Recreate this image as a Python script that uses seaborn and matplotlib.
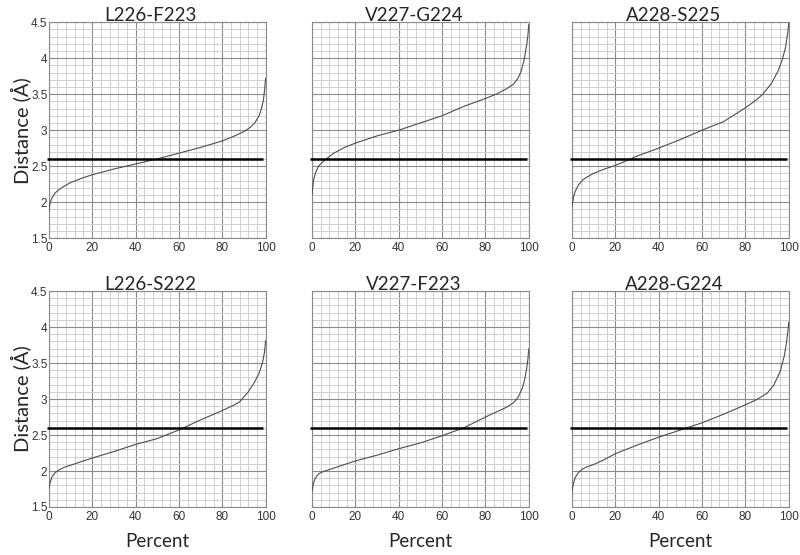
import numpy as np
import pandas as pd
import matplotlib
matplotlib.use('Agg')
import matplotlib.pyplot as plt
import seaborn as sns
from matplotlib.ticker import MultipleLocator

sns.set_style('white')
plt.rcParams['font.family'] = ['Liberation Sans', 'DejaVu Sans']

# panel titles
titles = ['L226-F223', 'V227-G224', 'A228-S225',
          'L226-S222', 'V227-F223', 'A228-G224']

# percent / distance points
pct_1 = [0, 0.3, 0.7, 1.5, 3, 5, 7, 10, 15, 20, 30, 40, 50, 60, 70, 80, 85, 90, 93, 95, 97, 98, 99, 99.5, 100]
dist_1 = [1.87, 1.94, 2.0, 2.06, 2.13, 2.18, 2.22, 2.27, 2.33, 2.38, 2.46, 2.53, 2.6, 2.68, 2.76, 2.85, 2.91, 2.98, 3.04, 3.1, 3.2, 3.29, 3.42, 3.55, 3.72]

pct_2 = [0, 0.3, 0.7, 1.5, 3, 5, 7, 10, 15, 20, 30, 40, 50, 60, 70, 80, 85, 90, 93, 95, 96.5, 98, 99, 99.6, 100]
dist_2 = [2.1, 2.2, 2.3, 2.4, 2.5, 2.56, 2.61, 2.68, 2.76, 2.82, 2.92, 3.0, 3.1, 3.2, 3.33, 3.44, 3.5, 3.58, 3.64, 3.72, 3.82, 4.0, 4.18, 4.32, 4.47]

pct_3 = [0, 0.3, 0.7, 1.5, 3, 5, 7, 10, 15, 20, 27, 30, 40, 50, 60, 70, 80, 85, 88, 92, 95, 97, 98.5, 99.5, 100]
dist_3 = [1.94, 2.0, 2.07, 2.15, 2.24, 2.31, 2.35, 2.4, 2.46, 2.51, 2.6, 2.64, 2.75, 2.87, 3.0, 3.12, 3.31, 3.42, 3.5, 3.65, 3.82, 3.98, 4.15, 4.35, 4.49]

pct_4 = [0, 0.3, 0.7, 1.5, 3, 5, 7, 10, 15, 20, 30, 40, 50, 60, 65, 70, 80, 85, 88, 92, 95, 97, 98.5, 99.5, 100]
dist_4 = [1.76, 1.8, 1.85, 1.92, 1.98, 2.02, 2.05, 2.08, 2.13, 2.18, 2.27, 2.37, 2.45, 2.57, 2.64, 2.71, 2.84, 2.91, 2.96, 3.1, 3.24, 3.36, 3.5, 3.65, 3.81]

pct_5 = [0, 0.3, 0.7, 1.5, 3, 5, 7, 10, 15, 20, 30, 40, 50, 60, 70, 80, 85, 90, 93, 95, 97, 98, 99, 99.6, 100]
dist_5 = [1.72, 1.77, 1.83, 1.9, 1.96, 1.99, 2.01, 2.04, 2.09, 2.14, 2.22, 2.31, 2.39, 2.49, 2.6, 2.75, 2.82, 2.89, 2.95, 3.02, 3.15, 3.26, 3.42, 3.56, 3.7]

pct_6 = [0, 0.3, 0.7, 1.5, 3, 5, 7, 10, 15, 20, 30, 40, 50, 55, 60, 70, 80, 85, 90, 93, 96, 98, 99, 99.6, 100]
dist_6 = [1.72, 1.77, 1.83, 1.91, 1.98, 2.03, 2.06, 2.09, 2.16, 2.24, 2.36, 2.47, 2.57, 2.62, 2.67, 2.79, 2.92, 2.99, 3.08, 3.19, 3.38, 3.61, 3.8, 3.95, 4.07]

threshold = 2.6

curves = [(pct_1, dist_1), (pct_2, dist_2), (pct_3, dist_3),
          (pct_4, dist_4), (pct_5, dist_5), (pct_6, dist_6)]

fig = plt.figure(figsize=(8, 5.55), dpi=100)

lefts = [0.061, 0.39, 0.715]
bottoms = [0.571, 0.0865]
w, h = 0.271, 0.389

for i, (pct, dist) in enumerate(curves):
    row, col = divmod(i, 3)
    ax = fig.add_axes([lefts[col], bottoms[row], w, h])
    df = pd.DataFrame({'Percent': pct, 'Distance': dist})
    sns.lineplot(data=df, x='Percent', y='Distance', ax=ax,
                 color='#4d4d4d', linewidth=0.8, zorder=3)
    ax.hlines(threshold, -1, 99, color='black', linewidth=1.8, zorder=4, clip_on=False)

    ax.set_xlim(0, 100)
    ax.set_ylim(1.5, 4.5)
    ax.xaxis.set_major_locator(MultipleLocator(20))
    ax.xaxis.set_minor_locator(MultipleLocator(4))
    ax.yaxis.set_major_locator(MultipleLocator(0.5))
    ax.yaxis.set_minor_locator(MultipleLocator(0.1))
    ax.grid(which='minor', color='#cfcfcf', linewidth=0.7, zorder=1)
    ax.grid(which='major', color='#8a8a8a', linewidth=0.8, zorder=2)
    ax.set_axisbelow(True)
    for s in ax.spines.values():
        s.set_color('#8a8a8a')
        s.set_linewidth(0.8)
    ax.tick_params(which='both', length=0, labelsize=8.5, colors='#333333', pad=3)
    ax.set_xticks([0, 20, 40, 60, 80, 100])
    ax.set_xticklabels(['0', '20', '40', '60', '80', '100'])
    if col == 0:
        ax.set_yticks([1.5, 2, 2.5, 3, 3.5, 4, 4.5])
        ax.set_yticklabels(['1.5', '2', '2.5', '3', '3.5', '4', '4.5'])
        ax.tick_params(axis='y', pad=1)
        ax.set_ylabel('Distance (Å)', fontsize=14.5, family=['Lato', 'DejaVu Sans'], labelpad=0)
    else:
        ax.set_yticklabels([])
        ax.set_ylabel('')
    if row == 1:
        ax.set_xlabel('Percent', fontsize=13.5, family=['Lato', 'DejaVu Sans'], labelpad=7)
    else:
        ax.set_xlabel('')
    ax.set_title(titles[i], fontsize=13.5, family=['Lato', 'DejaVu Sans'], pad=1, x=0.47)

fig.savefig('out.png', dpi=100)
